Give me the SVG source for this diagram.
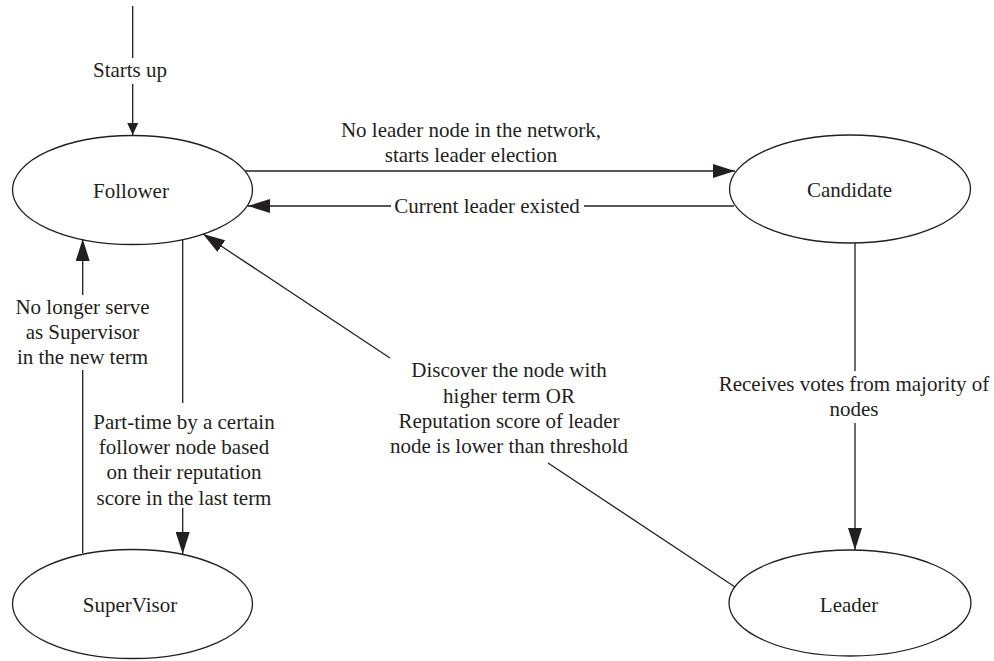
<svg xmlns="http://www.w3.org/2000/svg" width="994" height="661" viewBox="0 0 994 661">
  <style>
    .node ellipse { fill: #ffffff; stroke: #231f20; stroke-width: 1.3; }
    .node text, .label { font-family: "Liberation Serif", "Times New Roman", serif; font-size: 21px; fill: #231f20; text-anchor: middle; }
    .edge { stroke: #231f20; stroke-width: 1.3; fill: none; }
  </style>
  <defs>
    <marker id="arrow" markerUnits="userSpaceOnUse" markerWidth="22" markerHeight="14" refX="22" refY="7" orient="auto">
      <path d="M0,0 L22,7 L0,14 z" fill="#231f20"/>
    </marker>
    <marker id="arrow-small" markerUnits="userSpaceOnUse" markerWidth="12" markerHeight="11" refX="12" refY="5.5" orient="auto">
      <path d="M0,0 L12,5.5 L0,11 z" fill="#231f20"/>
    </marker>
  </defs>

  <rect width="994" height="661" fill="#ffffff"/>

  <!-- state nodes -->
  <g id="follower" class="node">
    <ellipse cx="132.5" cy="190" rx="120" ry="54.5"/>
    <text x="131" y="198">Follower</text>
  </g>
  <g id="candidate" class="node">
    <ellipse cx="850" cy="189" rx="120.5" ry="54"/>
    <text x="849.5" y="197">Candidate</text>
  </g>
  <g id="leader" class="node">
    <ellipse cx="850" cy="603" rx="121" ry="53"/>
    <text x="849" y="612">Leader</text>
  </g>
  <g id="supervisor" class="node">
    <ellipse cx="132.5" cy="604" rx="120" ry="54.5"/>
    <text x="130" y="612">SuperVisor</text>
  </g>

  <!-- transitions -->
  <g id="connectors">
    <!-- start -->
    <line class="edge" x1="132.7" y1="6" x2="132.7" y2="58"/>
    <line class="edge" x1="132.7" y1="84" x2="132.7" y2="135" marker-end="url(#arrow-small)"/>
    <text class="label" x="130" y="77">Starts up</text>

    <!-- follower to candidate -->
    <line class="edge" x1="245" y1="171" x2="735" y2="171" marker-end="url(#arrow)"/>
    <text class="label" x="471" y="137">No leader node in the network,</text>
    <text class="label" x="471" y="162">starts leader election</text>

    <!-- candidate back to follower -->
    <line class="edge" x1="734" y1="206" x2="584" y2="206"/>
    <line class="edge" x1="391" y1="206" x2="248" y2="206" marker-end="url(#arrow)"/>
    <text class="label" x="487" y="212.5">Current leader existed</text>

    <!-- candidate to leader -->
    <line class="edge" x1="855" y1="243" x2="855" y2="371"/>
    <line class="edge" x1="855" y1="423" x2="855" y2="550" marker-end="url(#arrow)"/>
    <text class="label" x="854" y="391">Receives votes from majority of</text>
    <text class="label" x="854" y="415.5">nodes</text>

    <!-- follower to supervisor -->
    <line class="edge" x1="182.7" y1="240" x2="182.7" y2="403"/>
    <line class="edge" x1="182.7" y1="508" x2="182.7" y2="554" marker-end="url(#arrow)"/>
    <text class="label" x="184" y="428.5">Part-time by a certain</text>
    <text class="label" x="184" y="453.5">follower node based</text>
    <text class="label" x="184" y="479">on their reputation</text>
    <text class="label" x="184" y="504.5">score in the last term</text>

    <!-- supervisor back to follower -->
    <line class="edge" x1="82.7" y1="553" x2="82.7" y2="370"/>
    <line class="edge" x1="82.7" y1="295" x2="82.7" y2="239" marker-end="url(#arrow)"/>
    <text class="label" x="82.5" y="313.5">No longer serve</text>
    <text class="label" x="82.5" y="338.5">as Supervisor</text>
    <text class="label" x="82.5" y="363.5">in the new term</text>

    <!-- leader back to follower -->
    <line class="edge" x1="735" y1="587" x2="548" y2="463"/>
    <line class="edge" x1="390" y1="358" x2="203" y2="234" marker-end="url(#arrow)"/>
    <text class="label" x="509" y="377">Discover the node with</text>
    <text class="label" x="509" y="402.5">higher term OR</text>
    <text class="label" x="509" y="427.5">Reputation score of leader</text>
    <text class="label" x="509" y="453">node is lower than threshold</text>
  </g>
</svg>
